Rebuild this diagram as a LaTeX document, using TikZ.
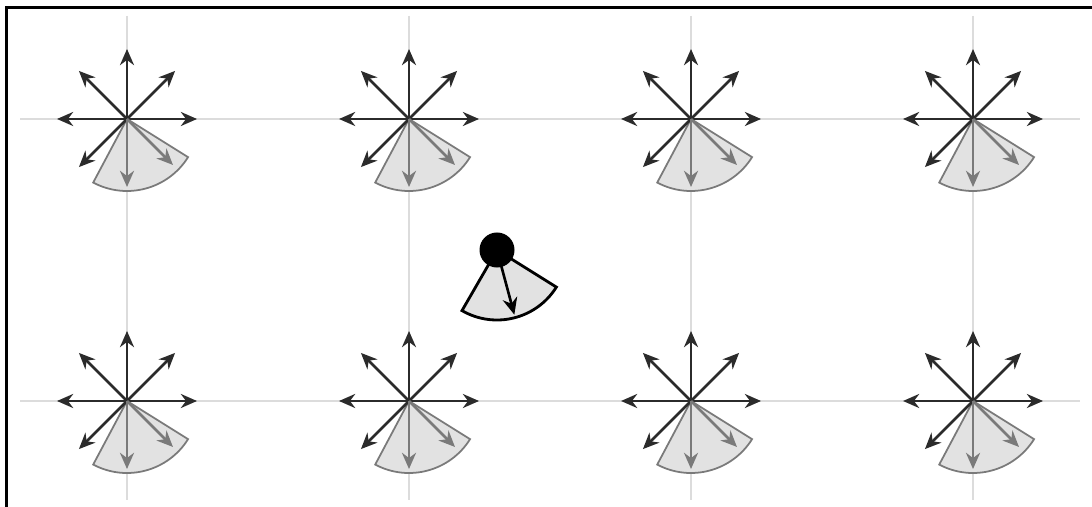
\documentclass[tikz,border=0pt]{standalone}
\usetikzlibrary{arrows.meta,calc}
\definecolor{gridc}{HTML}{DCDCDC}
\definecolor{darkarr}{HTML}{2B2B2B}
\definecolor{grayarr}{HTML}{7A7A7A}
\definecolor{secfill}{HTML}{E2E2E2}
\definecolor{secline}{HTML}{7A7A7A}
\begin{document}
\begin{tikzpicture}[x=0.01cm,y=-0.01cm,
  gridline/.style={gridc,line width=0.45pt},
  arrdark/.style={darkarr,line width=0.75pt,-{Stealth[length=4.6pt,width=4pt]}},
  arrgray/.style={grayarr,line width=0.75pt,-{Stealth[length=4.6pt,width=4pt]}},
  cell/.style={fill=secfill,draw=secline,line width=0.5pt},
  robotsec/.style={fill=secfill,draw=black,line width=0.8pt},
  framel/.style={black,line width=0.9pt}]
\useasboundingbox (0,0) rectangle (1092,507);
% grid lines
\foreach \x in {127,409,691,973} {
  \coordinate (vt-\x) at (\x,16);
  \coordinate (vb-\x) at (\x,500);
  \draw[gridline] (vt-\x) -- (vb-\x);
}
\foreach \y in {119,401} {
  \coordinate (hl-\y) at (20,\y);
  \coordinate (hr-\y) at (1080,\y);
  \draw[gridline] (hl-\y) -- (hr-\y);
}
% grid cells
\foreach \x in {127,409,691,973} {
  \foreach \y in {119,401} {
    \coordinate (g-\x-\y) at (\x,\y);
    \draw[cell] (g-\x-\y) -- ++(32:72) arc[start angle=32,end angle=118,radius=72] -- cycle;
    \foreach \a/\l in {0/70,180/70,270/70,-45/68,-135/68,135/68} {
      \draw[arrdark] (g-\x-\y) -- ($(g-\x-\y)+(\a:\l)$);
    }
    \draw[arrgray] (g-\x-\y) -- ($(g-\x-\y)+(90:68)$);
    \draw[arrgray] (g-\x-\y) -- ($(g-\x-\y)+(45:65)$);
  }
}
% robot
\coordinate (robot) at (497,250);
\draw[robotsec] (robot) -- ++(32:70) arc[start angle=32,end angle=120,radius=70] -- cycle;
\coordinate (rtip) at ($(robot)+(75:67)$);
\draw[black,line width=0.75pt,-{Stealth[length=4.8pt,width=4.2pt]}] (robot) -- (rtip);
\node[circle,fill=black,inner sep=0pt,minimum size=0.35cm] (rb) at (robot) {};
% frame (top and left edges)
\coordinate (f1) at (6.5,507);
\coordinate (f2) at (6.5,7.5);
\coordinate (f3) at (1092,7.5);
\draw[framel] (f1) -- (f2) -- (f3);
\end{tikzpicture}
\end{document}
